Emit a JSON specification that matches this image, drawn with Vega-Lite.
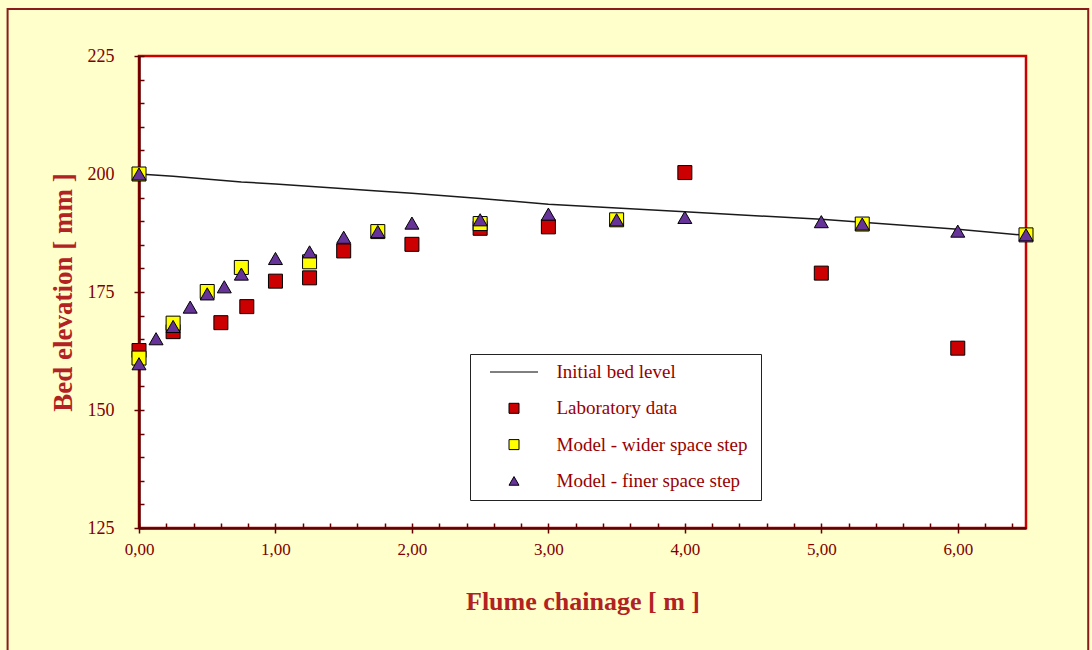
{
  "$schema": "https://vega.github.io/schema/vega-lite/v6.json",
  "width": 887,
  "height": 472,
  "autosize": {"type": "none"},
  "padding": {"left": 139, "top": 56, "right": 66, "bottom": 122},
  "background": "#FFFFCC",
  "config": {
    "view": {"fill": "white", "stroke": "#CC0000", "strokeWidth": 2.5},
    "font": "Liberation Serif"
  },
  "datasets": {
    "bed": [
      {"x": 0, "y": 200, "series": "Initial bed level"},
      {"x": 0.25, "y": 199.5, "series": "Initial bed level"},
      {"x": 0.75, "y": 198.3, "series": "Initial bed level"},
      {"x": 1.0, "y": 197.9, "series": "Initial bed level"},
      {"x": 1.75, "y": 196.4, "series": "Initial bed level"},
      {"x": 2.0, "y": 195.9, "series": "Initial bed level"},
      {"x": 2.5, "y": 194.8, "series": "Initial bed level"},
      {"x": 3.0, "y": 193.6, "series": "Initial bed level"},
      {"x": 3.5, "y": 192.8, "series": "Initial bed level"},
      {"x": 4.0, "y": 192.0, "series": "Initial bed level"},
      {"x": 5.0, "y": 190.4, "series": "Initial bed level"},
      {"x": 5.3, "y": 189.8, "series": "Initial bed level"},
      {"x": 6.0, "y": 188.3, "series": "Initial bed level"},
      {"x": 6.5, "y": 187.0, "series": "Initial bed level"},

      {"x": 0, "y": 162.6, "series": "Laboratory data"},
      {"x": 0.25, "y": 166.6, "series": "Laboratory data"},
      {"x": 0.6, "y": 168.5, "series": "Laboratory data"},
      {"x": 0.79, "y": 171.9, "series": "Laboratory data"},
      {"x": 1.0, "y": 177.3, "series": "Laboratory data"},
      {"x": 1.25, "y": 178.0, "series": "Laboratory data"},
      {"x": 1.5, "y": 183.7, "series": "Laboratory data"},
      {"x": 2.0, "y": 185.1, "series": "Laboratory data"},
      {"x": 2.5, "y": 188.5, "series": "Laboratory data"},
      {"x": 3.0, "y": 188.8, "series": "Laboratory data"},
      {"x": 4.0, "y": 200.3, "series": "Laboratory data"},
      {"x": 5.0, "y": 179.0, "series": "Laboratory data"},
      {"x": 6.0, "y": 163.1, "series": "Laboratory data"},

      {"x": 0, "y": 200, "series": "Model - wider  space step"},
      {"x": 0, "y": 161.0, "series": "Model - wider  space step"},
      {"x": 0.25, "y": 168.4, "series": "Model - wider  space step"},
      {"x": 0.5, "y": 175.1, "series": "Model - wider  space step"},
      {"x": 0.75, "y": 180.2, "series": "Model - wider  space step"},
      {"x": 1.25, "y": 181.4, "series": "Model - wider  space step"},
      {"x": 1.75, "y": 187.8, "series": "Model - wider  space step"},
      {"x": 2.5, "y": 189.5, "series": "Model - wider  space step"},
      {"x": 3.5, "y": 190.3, "series": "Model - wider  space step"},
      {"x": 5.3, "y": 189.4, "series": "Model - wider  space step"},
      {"x": 6.5, "y": 187.1, "series": "Model - wider  space step"},

      {"x": 0, "y": 200, "series": "Model - finer space step"},
      {"x": 0, "y": 159.8, "series": "Model - finer space step"},
      {"x": 0.125, "y": 165.1, "series": "Model - finer space step"},
      {"x": 0.25, "y": 167.7, "series": "Model - finer space step"},
      {"x": 0.375, "y": 171.8, "series": "Model - finer space step"},
      {"x": 0.5, "y": 174.6, "series": "Model - finer space step"},
      {"x": 0.625, "y": 176.1, "series": "Model - finer space step"},
      {"x": 0.75, "y": 178.8, "series": "Model - finer space step"},
      {"x": 1.0, "y": 182.1, "series": "Model - finer space step"},
      {"x": 1.25, "y": 183.5, "series": "Model - finer space step"},
      {"x": 1.5, "y": 186.6, "series": "Model - finer space step"},
      {"x": 1.75, "y": 187.8, "series": "Model - finer space step"},
      {"x": 2.0, "y": 189.6, "series": "Model - finer space step"},
      {"x": 2.5, "y": 190.3, "series": "Model - finer space step"},
      {"x": 3.0, "y": 191.5, "series": "Model - finer space step"},
      {"x": 3.5, "y": 190.3, "series": "Model - finer space step"},
      {"x": 4.0, "y": 190.8, "series": "Model - finer space step"},
      {"x": 5.0, "y": 189.9, "series": "Model - finer space step"},
      {"x": 5.3, "y": 189.4, "series": "Model - finer space step"},
      {"x": 6.0, "y": 187.9, "series": "Model - finer space step"},
      {"x": 6.5, "y": 187.1, "series": "Model - finer space step"}
    ]
  },
  "layer": [
    {
      "data": {"values": [{}]},
      "mark": {"type": "rect", "fillOpacity": 0, "stroke": "#8B1A1A", "strokeWidth": 2, "clip": false},
      "encoding": {
        "x": {"datum": -0.963, "type": "quantitative", "axis": null, "scale": {"domain": [0, 6.5], "nice": false, "zero": false}},
        "x2": {"datum": 6.956},
        "y": {"datum": 234.96, "type": "quantitative", "axis": null, "scale": {"domain": [125, 225], "nice": false, "zero": false}},
        "y2": {"datum": 97}
      }
    },
    {
      "data": {"name": "bed"},
      "transform": [{"filter": "datum.series === 'Initial bed level'"}],
      "mark": {"type": "line", "strokeWidth": 1.5, "color": "#1a1a1a"},
      "encoding": {
        "x": {
          "field": "x", "type": "quantitative",
          "scale": {"domain": [0, 6.5], "nice": false, "zero": false},
          "axis": {"orient": "bottom", "values": [0,0.2,0.4,0.6,0.8,1,1.2,1.4,1.6,1.8,2,2.2,2.4,2.6,2.8,3,3.2,3.4,3.6,3.8,4,4.2,4.4,4.6,4.8,5,5.2,5.4,5.6,5.8,6,6.2,6.4],
                   "tickSize": -5, "labels": false, "domain": false, "grid": false, "title": null, "tickColor": "#600000", "tickWidth": 1.5}
        },
        "y": {
          "field": "y", "type": "quantitative",
          "scale": {"domain": [125, 225], "nice": false, "zero": false},
          "axis": {"orient": "left", "values": [125,130,135,140,145,150,155,160,165,170,175,180,185,190,195,200,205,210,215,220,225],
                   "tickSize": -5, "labels": false, "domain": false, "grid": false, "title": null, "tickColor": "#600000", "tickWidth": 1.5}
        }
      }
    },
    {
      "data": {"name": "bed"},
      "transform": [{"filter": "datum.series !== 'Initial bed level'"}],
      "mark": {"type": "point", "filled": true, "stroke": "black", "strokeWidth": 1, "opacity": 1, "size": 196},
      "encoding": {
        "x": {
          "field": "x", "type": "quantitative",
          "scale": {"domain": [0, 6.5], "nice": false, "zero": false},
          "axis": {"orient": "bottom", "values": [0,1,2,3,4,5,6], "tickSize": 5, "tickColor": "#600000", "tickWidth": 1.5,
                   "domainColor": "#600000", "domainWidth": 2.5, "grid": false, "labelFlush": false,
                   "labelExpr": "replace(format(datum.value, '.2f'), '.', ',')",
                   "labelFont": "Liberation Serif", "labelFontSize": 17, "labelColor": "#800000", "labelPadding": 8,
                   "title": "Flume chainage  [ m ]", "titleFont": "Liberation Serif", "titleFontSize": 26, "titleFontWeight": "bold",
                   "titleColor": "#B22222", "titlePadding": 31}
        },
        "y": {
          "field": "y", "type": "quantitative",
          "scale": {"domain": [125, 225], "nice": false, "zero": false},
          "axis": {"orient": "left", "values": [125,150,175,200,225], "tickSize": 5, "tickColor": "#600000", "tickWidth": 1.5,
                   "domainColor": "#600000", "domainWidth": 2.5, "grid": false, "labelFlush": false,
                   "labelFont": "Liberation Serif", "labelFontSize": 18, "labelColor": "#800000", "labelPadding": 20,
                   "title": "Bed elevation [ mm ]", "titleFont": "Liberation Serif", "titleFontSize": 27, "titleFontWeight": "bold",
                   "titleColor": "#B22222", "titlePadding": 10}
        },
        "color": {
          "field": "series", "type": "nominal",
          "scale": {"domain": ["Initial bed level", "Laboratory data", "Model - wider  space step", "Model - finer space step"],
                    "range": ["#1a1a1a", "#CC0000", "#FFFF00", "#663399"]},
          "legend": {"title": null, "orient": "none", "legendX": 331, "legendY": 298, "fillColor": "white", "strokeColor": "#222222",
                     "padding": 8.5, "symbolSize": 100, "symbolOffset": 26, "labelOffset": 33, "rowPadding": 16.3,
                     "labelFont": "Liberation Serif", "labelFontSize": 19, "labelColor": "#990000", "labelLimit": 300,
                     "symbolStrokeColor": "black", "symbolStrokeWidth": 1,
                     "encode": {"symbols": {"update": {"stroke": {"value": "black"}, "strokeWidth": {"value": 1}, "opacity": {"value": 1}}}}}
        },
        "shape": {
          "field": "series", "type": "nominal",
          "scale": {"domain": ["Initial bed level", "Laboratory data", "Model - wider  space step", "Model - finer space step"],
                    "range": ["M-4.8,0H4.8", "square", "square", "triangle-up"]},
          "legend": {"title": null, "orient": "none", "legendX": 331, "legendY": 298, "fillColor": "white", "strokeColor": "#222222",
                     "padding": 8.5, "symbolSize": 100, "symbolOffset": 26, "labelOffset": 33, "rowPadding": 16.3,
                     "labelFont": "Liberation Serif", "labelFontSize": 19, "labelColor": "#990000", "labelLimit": 300,
                     "symbolStrokeColor": "black", "symbolStrokeWidth": 1,
                     "encode": {"symbols": {"update": {"stroke": {"value": "black"}, "strokeWidth": {"value": 1}, "opacity": {"value": 1}}}}}
        }
      }
    }
  ],
  "resolve": {"axis": {"x": "independent", "y": "independent"}}
}
